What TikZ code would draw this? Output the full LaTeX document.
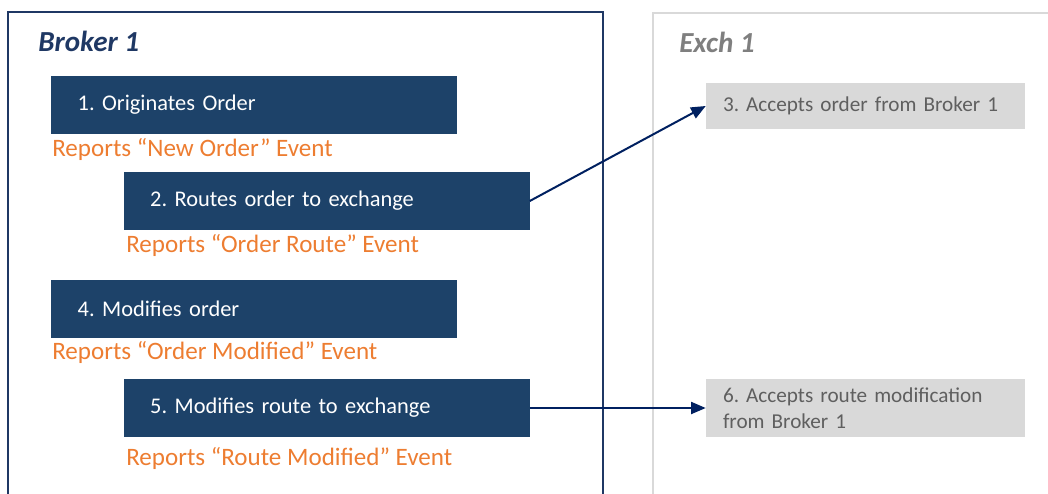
\documentclass[tikz,border=0pt]{standalone}
\usepackage{fontspec}
\setmainfont{Carlito}
\usetikzlibrary{arrows.meta, positioning}
\frenchspacing
\hyphenpenalty=10000
\definecolor{brokerblue}{RGB}{29,66,105}
\definecolor{frameblue}{RGB}{31,56,100}
\definecolor{arrowblue}{RGB}{0,32,96}
\definecolor{reportorange}{RGB}{237,125,49}
\definecolor{exchgray}{RGB}{217,217,217}
\definecolor{exchtext}{RGB}{95,95,95}
\definecolor{titlegray}{RGB}{127,127,127}
\tikzset{
  base/.style={align=left, inner ysep=0pt},
  action/.style  = {base, font=\fontsize{16.8}{19.5}\selectfont, fill=brokerblue, text=white,
                    minimum width=304.5pt, minimum height=43pt, text width=264.5pt, inner xsep=20pt},
  accept/.style  = {base, font=\fontsize{15.9}{19.5}\selectfont, fill=exchgray, text=exchtext,
                    minimum width=239.25pt, text width=213.75pt, inner xsep=12.75pt},
  report/.style  = {base, font=\fontsize{18.8}{19.5}\selectfont, text=reportorange, inner sep=0pt, anchor=west},
  title/.style   = {font=\fontsize{21.8}{24}\selectfont\bfseries\itshape, inner sep=0pt, anchor=west},
  frame/.style   = {line width=1.5pt},
  arr/.style     = {-{Triangle[length=11pt, width=9pt]}, line width=1.5pt, color=arrowblue},
}
\begin{document}
\begin{tikzpicture}[x=0.75pt, y=-0.75pt]
  \path[use as bounding box, clip] (0,0) rectangle (1048,493);

  % Frames
  \draw[frame, frameblue] (8,500) -- (8,12) -- (603,12) -- (603,500);
  \draw[frame, exchgray]  (653,500) -- (653,13) -- (1060,13);
  \node[title, text=frameblue] (broker) at (38,41) {Broker 1};
  \node[title, text=titlegray] (exch)   at (679,42) {Exch 1};

  % Broker steps
  \node[action] (orig)     at (254,105)   {1. Originates Order};
  \node[action] (route)    at (326.5,201) {2. Routes order to exchange};
  \node[action] (modify)   at (254,309)   {4. Modifies order};
  \node[action] (modroute) at (326.5,408) {5. Modifies route to exchange};

  % Reported events
  \node[report] (neworder)  at (52,149)  {Reports “New Order” Event};
  \node[report] (orderrte)  at (126,245) {Reports “Order Route” Event};
  \node[report] (ordermod)  at (52,352)  {Reports “Order Modified” Event};
  \node[report] (routemod)  at (126,458) {Reports “Route Modified” Event};

  % Exchange steps
  \node[accept, minimum height=34.5pt] (acceptord) at (865.5,106) {3. Accepts order from Broker 1};
  \node[accept, minimum height=43.5pt] (acceptmod) at (865.5,408) {6. Accepts route modification\\from Broker 1};

  % Messages
  \draw[arr] (route.east) -- (acceptord.west);
  \draw[arr] (modroute.east) -- (acceptmod.west);
\end{tikzpicture}
\end{document}
